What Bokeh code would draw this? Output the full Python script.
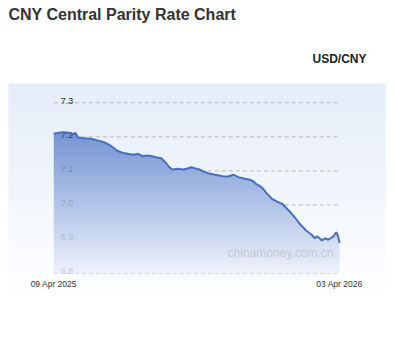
import numpy as np
import pandas as pd
from bokeh.plotting import figure
from bokeh.models import Range1d
from bokeh.core.properties import value
from bokeh.embed import file_html
from bokeh.resources import INLINE

# ---------------- data ----------------
dates = ["2025-04-09", "2025-04-15", "2025-04-21", "2025-04-28", "2025-05-02",
         "2025-05-06", "2025-05-09", "2025-05-16", "2025-05-26", "2025-06-03",
         "2025-06-11", "2025-06-19", "2025-06-27", "2025-07-04", "2025-07-11",
         "2025-07-18", "2025-07-24", "2025-07-29", "2025-08-04", "2025-08-11",
         "2025-08-15", "2025-08-22", "2025-08-27", "2025-09-01", "2025-09-05",
         "2025-09-12", "2025-09-19", "2025-09-25", "2025-09-29", "2025-10-03",
         "2025-10-09", "2025-10-14", "2025-10-20", "2025-10-27", "2025-11-03",
         "2025-11-07", "2025-11-14", "2025-11-21", "2025-11-27", "2025-12-05",
         "2025-12-12", "2025-12-16", "2025-12-19", "2025-12-26", "2026-01-02",
         "2026-01-08", "2026-01-14", "2026-01-21", "2026-01-27", "2026-02-02",
         "2026-02-09", "2026-02-13", "2026-02-20", "2026-02-27", "2026-03-03",
         "2026-03-06", "2026-03-12", "2026-03-16", "2026-03-20", "2026-03-25",
         "2026-03-27", "2026-03-30", "2026-04-01", "2026-04-03"]
rates = [7.2088, 7.2117, 7.2135, 7.2117, 7.2059,
         7.2117, 7.1988, 7.1959, 7.1941, 7.1891,
         7.1842, 7.1745, 7.1598, 7.1531, 7.1501,
         7.1472, 7.1501, 7.1431, 7.1452, 7.1431,
         7.1402, 7.1372, 7.1255, 7.1109, 7.1041,
         7.1062, 7.1041, 7.1079, 7.1109, 7.1079,
         7.1041, 7.0982, 7.0933, 7.0894, 7.0865,
         7.0845, 7.0836, 7.0886, 7.0815, 7.0768,
         7.0739, 7.0689, 7.0622, 7.0522, 7.0328,
         7.0182, 7.0103, 7.0035, 6.9889, 6.9742,
         6.9545, 6.9419, 6.9252, 6.9126, 6.9026,
         6.9085, 6.8959, 6.9026, 6.8980, 6.9056,
         6.9100, 6.9202, 6.9106, 6.8890]
y_ticks = [6.8, 6.9, 7.0, 7.1, 7.2, 7.3]
y_tick_labels = ["6.8", "6.9", "7.0", "7.1", "7.2", "7.3"]
x_tick_labels = ["09 Apr 2025", "03 Apr 2026"]
title_text = "CNY Central Parity Rate Chart"
pair_text = "USD/CNY"
watermark_text = "chinamoney.com.cn"

# ---------------- layout helpers (page pixels -> data) ----------------
d = pd.to_datetime(dates)
days = np.asarray((d - d[0]).days, dtype=float)
rates_a = np.asarray(rates)
span = days[-1]

ORIGIN = 0          # page pixel where the figure starts
W, H = 390, 355
PLOT_L, PLOT_R = 53.3, 339.0
Y_REF_PX, Y_REF_V, PX_PER_UNIT = 136.3, 7.2, 341.0
dpx = span / (PLOT_R - PLOT_L)


def xd(px):
    return (px - PLOT_L) * dpx


def yd(py):
    return Y_REF_V + (Y_REF_PX - py) / PX_PER_UNIT


def lerp_color(c1, c2, t):
    a = [int(c1[i:i + 2], 16) for i in (1, 3, 5)]
    b = [int(c2[i:i + 2], 16) for i in (1, 3, 5)]
    return "#%02x%02x%02x" % tuple(int(round(a[k] + (b[k] - a[k]) * t)) for k in range(3))


p = figure(width=W, height=H,
           x_range=Range1d(xd(ORIGIN), xd(ORIGIN + W)), y_range=Range1d(yd(ORIGIN + H), yd(ORIGIN)),
           output_backend="svg", toolbar_location=None, min_border=0,
           x_axis_location=None, y_axis_location=None)
p.grid.visible = False
p.outline_line_color = None
p.background_fill_color = "#ffffff"
p.border_fill_color = "#ffffff"

FONT = value("Liberation Sans")

# panel background gradient
n_bg = 40
top_px, bot_px = 83.0, 305.0
edges = np.linspace(top_px, bot_px, n_bg + 1)
bg_cols = [lerp_color("#e5edf9", "#ffffff", i / (n_bg - 1)) for i in range(n_bg)]
p.quad(left=xd(8), right=xd(385), top=[yd(e) for e in edges[:-1]],
       bottom=[yd(e + 1.0) for e in edges[1:]], fill_color=bg_cols, line_color=None)

# grid lines
p.segment(x0=[0.0] * len(y_ticks), x1=[span] * len(y_ticks), y0=y_ticks, y1=y_ticks,
          line_color="#b5b9c0", line_width=1, line_dash="4 3")

# area gradient (opaque bands, bottom to top)
base = y_ticks[0]
top_v = rates_a.max() + 0.002
n_ar = 50
levels = np.linspace(base, top_v, n_ar + 1)
ov = 0.5 / PX_PER_UNIT
for i in range(n_ar):
    lo, hi = levels[i], levels[i + 1]
    t = (hi - base) / (top_v - base)
    col = lerp_color("#eef3fb", "#7393d3", t)
    p.varea(x=days, y1=lo, y2=np.clip(rates_a, lo, hi + ov), fill_color=col)

# y tick labels (appear faded where the area covers them)
lab_cols = ["#c3cbdd", "#aab7d3", "#95a7cd", "#7188b8", "#3a3f4a", "#333333"]
p.text(x=[0.0] * len(y_ticks), y=y_ticks, text=y_tick_labels, x_offset=7, y_offset=-2,
       text_baseline="alphabetic", text_align="left", text_font=FONT,
       text_font_size="9px", text_color=lab_cols)

# line
p.line(days, rates_a, line_color="#4a6fbf", line_width=2)

# watermark
p.text(x=[span], y=[yd(252)], text=[watermark_text], x_offset=-6, text_align="right",
       text_baseline="middle", text_font=FONT, text_font_size="12px", text_color="#c3c8d1")

# x labels
p.text(x=[0.0, span], y=[yd(283)] * 2, text=x_tick_labels, text_align="center",
       text_baseline="middle", text_font=FONT, text_font_size="8.5px", text_color="#333333")

# titles
p.text(x=[xd(8)], y=[yd(14)], text=[title_text], text_align="left", text_baseline="middle",
       text_font=FONT, text_font_size="16px", text_font_style="bold", text_color="#333333")
p.text(x=[xd(366)], y=[yd(58)], text=[pair_text], text_align="right", text_baseline="middle",
       text_font=FONT, text_font_size="12px", text_font_style="bold", text_color="#222222")

open("out.html", "w").write(file_html(p, INLINE))
